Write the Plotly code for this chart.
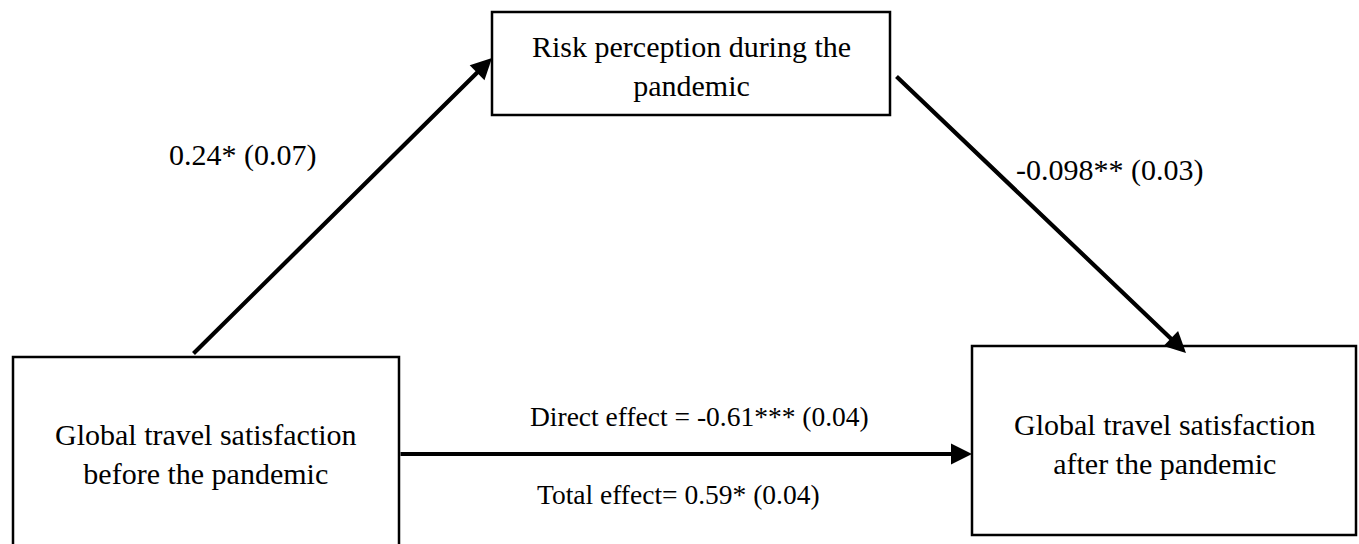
import plotly.graph_objects as go

# ---- data ----
node_labels = [
    "Global travel satisfaction<br>before the pandemic",
    "Risk perception during the<br>pandemic",
    "Global travel satisfaction<br>after the pandemic",
]
path_labels = ["0.24* (0.07)", "-0.098** (0.03)"]
direct_label = "Direct effect = -0.61*** (0.04)"
total_label = "Total effect= 0.59* (0.04)"

# ---- layout geometry (window-pixel coordinate system) ----
W, H = 1359, 544
boxes = [  # x0, y0, x1, y1
    (13, 357, 399, 570),
    (492, 12, 890, 115),
    (972, 346, 1356, 535),
]
box_text_pos = [(206, 454), (691, 66), (1165, 444)]
arrows = [  # tail (x, y) -> head (x, y)
    ((192, 355), (492, 58)),
    ((895, 75), (1186, 353)),
    ((399, 454), (972, 454)),
]
path_label_pos = [(242, 155), (1109, 170)]
direct_pos = (528, 416)
total_pos = (535, 494)

FONT = "Liberation Serif, Times New Roman, serif"

fig = go.Figure()
fig.add_trace(go.Scatter(x=[0, W], y=[0, H], mode="markers",
                         marker=dict(opacity=0), hoverinfo="skip", showlegend=False))

for (x0, y0, x1, y1) in boxes:
    fig.add_shape(type="rect", x0=x0, y0=y0, x1=x1, y1=y1, xref="x", yref="y",
                  line=dict(color="black", width=2.5), fillcolor="white", layer="below")

for lab, (x, y) in zip(node_labels, box_text_pos):
    fig.add_annotation(x=x, y=y, text=lab, showarrow=False, xref="x", yref="y",
                       xanchor="center", yanchor="middle",
                       font=dict(family=FONT, size=30, color="black"))

for (t, h) in arrows:
    fig.add_annotation(x=h[0], y=h[1], ax=t[0], ay=t[1], xref="x", yref="y",
                       axref="x", ayref="y", text="", showarrow=True,
                       arrowhead=2, arrowsize=1.0, arrowwidth=4.2, arrowcolor="black",
                       standoff=0, startstandoff=0)

for lab, (x, y) in zip(path_labels, path_label_pos):
    fig.add_annotation(x=x, y=y, text=lab, showarrow=False, xref="x", yref="y",
                       xanchor="center", yanchor="middle",
                       font=dict(family=FONT, size=30, color="black"))

fig.add_annotation(x=direct_pos[0], y=direct_pos[1], text=direct_label, showarrow=False,
                   xref="x", yref="y", xanchor="left", yanchor="middle",
                   font=dict(family=FONT, size=27.5, color="black"))
fig.add_annotation(x=total_pos[0], y=total_pos[1], text=total_label, showarrow=False,
                   xref="x", yref="y", xanchor="left", yanchor="middle",
                   font=dict(family=FONT, size=27.5, color="black"))

fig.update_xaxes(range=[0, W], visible=False, fixedrange=True)
fig.update_yaxes(range=[H, 0], visible=False, fixedrange=True)
fig.update_layout(width=W, height=H, margin=dict(l=0, r=0, t=0, b=0),
                  plot_bgcolor="white", paper_bgcolor="white", showlegend=False)

fig.write_html(
    "out.html",
    config={"displayModeBar": False},
    post_script="document.body.style.margin='0';document.body.style.overflow='hidden';",
)
